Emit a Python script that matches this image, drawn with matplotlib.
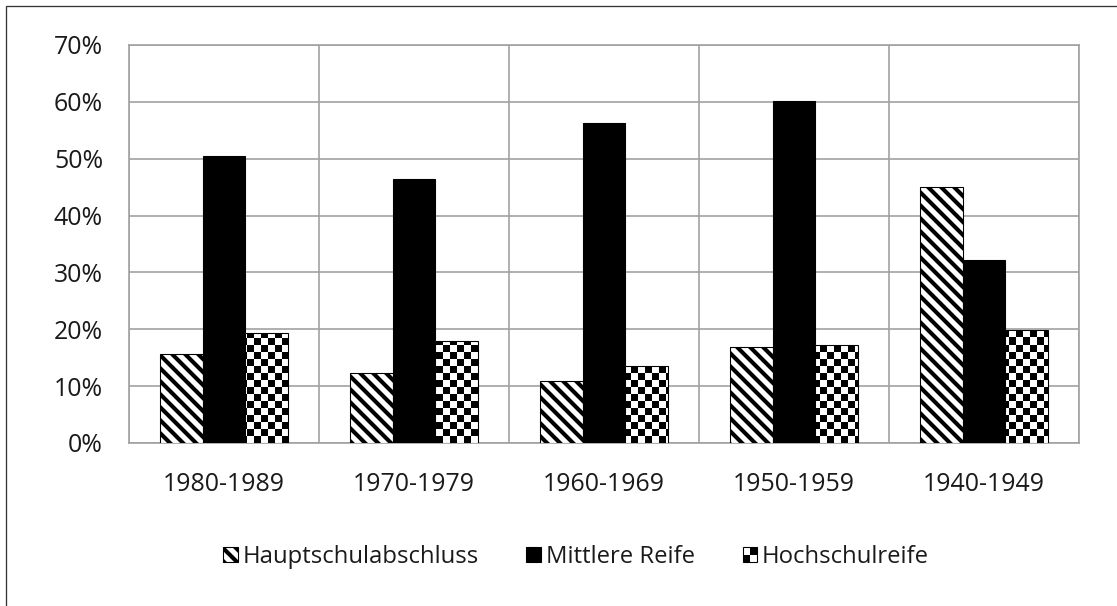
import numpy as np
import matplotlib.pyplot as plt
from matplotlib.patches import Rectangle
from matplotlib.legend_handler import HandlerBase

# data
decades = ["1980-1989", "1970-1979", "1960-1969", "1950-1959", "1940-1949"]
haupt = [15.6, 12.3, 10.9, 16.9, 45.1]
mittlere = [50.5, 46.4, 56.3, 60.1, 32.2]
hoch = [19.3, 17.9, 13.5, 17.2, 19.9]
labels = ["Hauptschulabschluss", "Mittlere Reife", "Hochschulreife"]

DPI = 78
plt.rcParams['font.family'] = ['Open Sans', 'DejaVu Sans']
plt.rcParams['hatch.linewidth'] = 3.8
plt.rcParams['hatch.color'] = 'black'

fig = plt.figure(figsize=(1117 / DPI, 606 / DPI), dpi=DPI)
ax = fig.add_axes([129 / 1117, 1 - 443 / 606, 950 / 1117, 398 / 606])

x = np.arange(len(decades))
w = 0.226

b1 = ax.bar(x - w, haupt, w, facecolor='white', edgecolor='black', hatch='\\\\', linewidth=1, zorder=3)
b2 = ax.bar(x, mittlere, w, facecolor='black', edgecolor='black', linewidth=1, zorder=3)
b3 = ax.bar(x + w, hoch, w, facecolor='none', edgecolor='black', linewidth=1, zorder=4)

ax.set_xlim(-0.5, len(decades) - 0.5)
ax.set_ylim(0, 70)

# checkerboard fill for Hochschulreife, cell ~7 px
cell = 7
nx = int(round(950 / cell))
ny = int(round(398 / cell))
checker = (np.add.outer(np.arange(ny), np.arange(nx)) % 2).astype(float)
for bar in b3:
    im = ax.imshow(checker, cmap='gray', extent=(-0.5, len(decades) - 0.5, 0, 70),
                   aspect='auto', interpolation='nearest', origin='lower', zorder=3)
    im.set_clip_path(bar)
ax.set_xlim(-0.5, len(decades) - 0.5)
ax.set_ylim(0, 70)

ax.set_yticks(np.arange(0, 71, 10))
ax.set_yticklabels([f"{v}%" for v in range(0, 71, 10)])
ax.set_xticks(x)
ax.set_xticklabels(decades)
ax.set_xticks(np.arange(-0.5, len(decades), 1), minor=True)
ax.tick_params(axis='both', which='both', length=0, labelsize=23, colors='#1a1a1a')
ax.tick_params(axis='y', pad=24)
ax.tick_params(axis='x', pad=27)
ax.grid(axis='y', which='major', color='#a0a0a0', linewidth=1.5, zorder=0)
ax.grid(axis='x', which='minor', color='#a0a0a0', linewidth=1.5, zorder=0)
ax.set_axisbelow(True)
for s in ax.spines.values():
    s.set_color('#a0a0a0')
    s.set_linewidth(1.5)


class CheckerHandler(HandlerBase):
    def create_artists(self, legend, orig_handle, xdescent, ydescent, width, height, fontsize, trans):
        arts = [Rectangle((-xdescent, -ydescent), width, height, facecolor='white',
                          edgecolor='black', linewidth=1, transform=trans)]
        for i in range(2):
            for j in range(2):
                if (i + j) % 2 == 0:
                    arts.append(Rectangle((-xdescent + i * width / 2, -ydescent + j * height / 2),
                                          width / 2, height / 2, facecolor='black',
                                          edgecolor='none', transform=trans))
        return arts


h1 = Rectangle((0, 0), 1, 1, facecolor='white', edgecolor='black', hatch='\\\\', linewidth=1)
h2 = Rectangle((0, 0), 1, 1, facecolor='black', edgecolor='black')
h3 = Rectangle((0, 0), 1, 1)
fig.legend([h1, h2, h3], labels, loc='center', bbox_to_anchor=(576 / 1117, 1 - 557 / 606),
           ncol=3, frameon=False, fontsize=22, handlelength=0.62, handleheight=0.62,
           handletextpad=0.2, columnspacing=2.0, handler_map={h3: CheckerHandler()},
           labelcolor='#1a1a1a')

# outer frame (left and top edges visible)
fig.patches.append(Rectangle((6 / 1117, -0.2), 1.2, 1.2 - 6 / 606, transform=fig.transFigure,
                             fill=False, edgecolor='#333333', linewidth=1.2))

fig.savefig("out.png", dpi=DPI)
